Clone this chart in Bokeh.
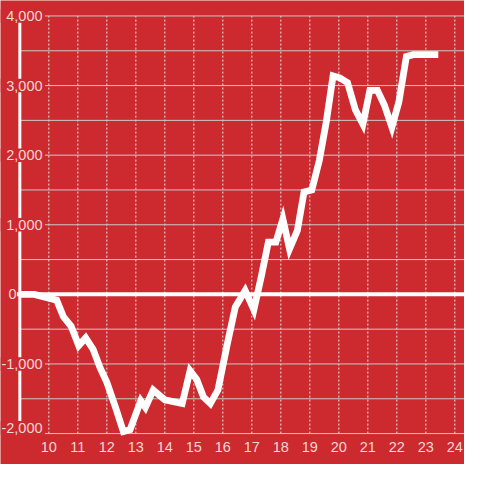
from bokeh.plotting import figure
from bokeh.models import Label, Range1d
from bokeh.embed import file_html
from bokeh.resources import INLINE

# ---- data ----
hours = [9.0, 9.5, 10.27, 10.5, 10.77, 11.03, 11.27, 11.53, 11.77, 12.0,
         12.3, 12.57, 12.8, 13.17, 13.33, 13.6, 14.0, 14.6, 14.87, 15.1,
         15.33, 15.57, 15.83, 16.17, 16.43, 16.77, 17.07, 17.33, 17.57, 17.83,
         18.07, 18.3, 18.57, 18.8, 19.07, 19.33, 19.57, 19.8, 20.03, 20.3,
         20.57, 20.83, 21.07, 21.33, 21.57, 21.83, 22.07, 22.33, 22.57, 23.43]
values = [0, 0, -83, -319, -458, -736, -625, -792, -1056, -1264,
          -1625, -1972, -1944, -1528, -1625, -1375, -1514, -1569, -1097, -1222,
          -1472, -1569, -1375, -681, -181, 56, -222, 264, 750, 750,
          1083, 653, 917, 1472, 1500, 1931, 2486, 3139, 3111, 3042,
          2653, 2444, 2931, 2931, 2722, 2403, 2764, 3417, 3444, 3444]

x_ticks = list(range(10, 25))
x_tick_labels = [str(h) for h in x_ticks]
y_ticks = [-2000, -1000, 0, 1000, 2000, 3000, 4000]
y_tick_labels = ["-2,000", "-1,000", "0", "1,000", "2,000", "3,000", "4,000"]
y_grid_ticks = list(range(-2000, 4001, 500))

# ---- style / layout ----
RED = "#cc2a2f"
TEXT = "#f3d6d6"
GRID = "#c9c9c9"
VGRID = "#e8e8e8"
FONT = "Liberation Sans"
FONT_SIZE = "14.5px"
W = H = 464
S = W / 480.0          # scale from the 480px reference to this page
PX_PER_HR = 30.0       # reference pixels per hour
PX_PER_UNIT = 72.0 / 1000.0  # reference pixels per value unit
X_ORIGIN_PX = 20.0     # reference px of hour 9
Y_ZERO_PX = 304.0      # reference px of value 0


def xr(px):
    return 9.0 + (px - X_ORIGIN_PX) / PX_PER_HR


def yr(py):
    return (Y_ZERO_PX - py) / PX_PER_UNIT


X0, X1 = xr(0), xr(480)
Y0, Y1 = yr(480), yr(0)
YMIN, YMAX = min(y_ticks), max(y_ticks)

p = figure(width=W, height=H, output_backend="svg", toolbar_location=None,
           x_range=Range1d(X0, X1), y_range=Range1d(Y0, Y1),
           x_axis_location=None, y_axis_location=None,
           min_border=0,
           background_fill_color=RED, border_fill_color=RED,
           outline_line_color=None)
p.grid.visible = False

# vertical dashed grid
p.segment(x0=x_ticks, y0=[YMIN] * len(x_ticks), x1=x_ticks,
          y1=[YMAX] * len(x_ticks), line_color=VGRID, line_width=1,
          line_dash="2 2")
# horizontal grid
p.segment(x0=[hours[0]] * len(y_grid_ticks), y0=y_grid_ticks,
          x1=[X1] * len(y_grid_ticks), y1=y_grid_ticks,
          line_color=GRID, line_width=1)

# y axis bar
p.segment(x0=[hours[0]], y0=[YMIN], x1=[hours[0]], y1=[YMAX],
          line_color="white", line_width=3)

# label boxes that hide bar and grid behind the y labels
box_ticks = [t for t in y_ticks if t != 0]
box_y = [t + (6 / PX_PER_UNIT if t == YMIN else 0) for t in box_ticks]
p.rect(x=[xr(23)] * len(box_ticks), y=box_y,
       width=46 * S, height=14 * S,
       width_units="screen", height_units="screen",
       fill_color=RED, line_color=None)

# zero line
p.segment(x0=[xr(17)], y0=[0], x1=[X1], y1=[0], line_color="white",
          line_width=4)

# data line
p.line(hours, values, line_color="white", line_width=6.8,
       line_join="miter", line_cap="butt")

# y labels
for t, lab in zip(y_ticks, y_tick_labels):
    right = 16.5 if t == 0 else 43.5
    yoff = 6 if t == YMIN else 0
    p.add_layout(Label(x=xr(right), y=t, text=lab,
                       text_align="right", text_baseline="middle",
                       y_offset=yoff,
                       text_color=TEXT, text_font=FONT,
                       text_font_size=FONT_SIZE))

# x labels
for h, lab in zip(x_ticks, x_tick_labels):
    p.add_layout(Label(x=h, y=YMIN, text=lab, text_align="center",
                       text_baseline="middle", y_offset=-14 * S,
                       text_color=TEXT, text_font=FONT,
                       text_font_size=FONT_SIZE))

open("out.html", "w").write(file_html(p, INLINE))
